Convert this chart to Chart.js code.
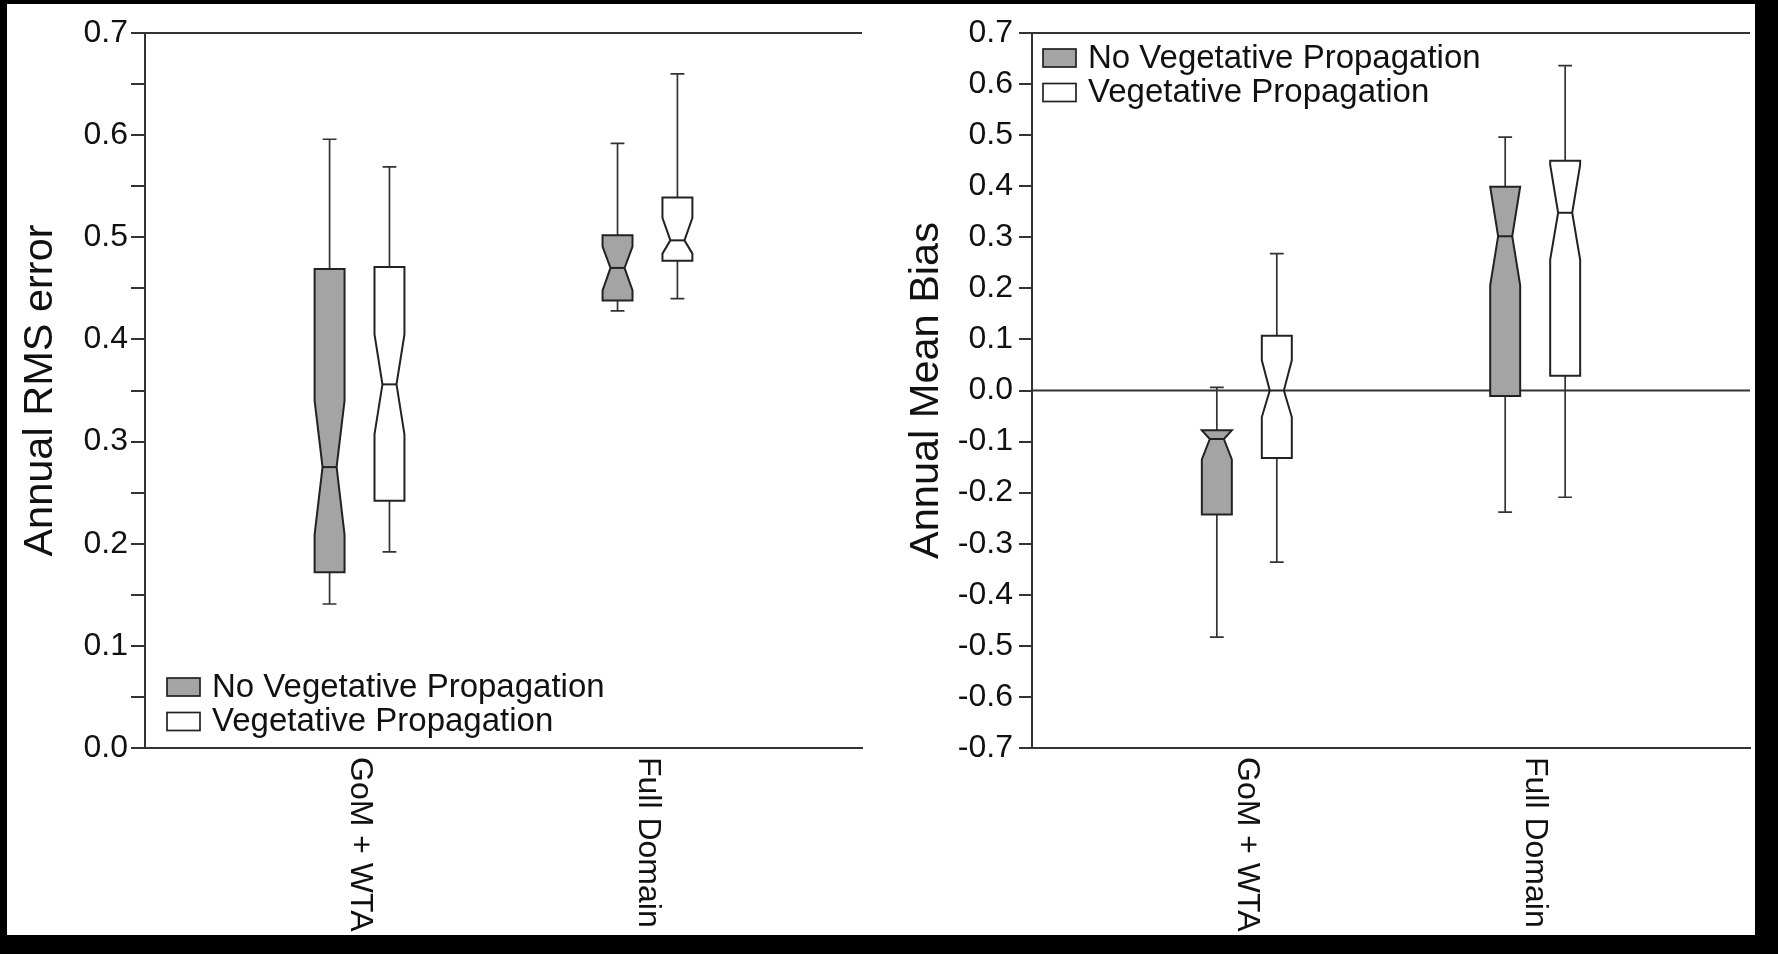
<!DOCTYPE html>
<html lang="en">
<head>
  <meta charset="UTF-8">
  <title>Annual RMS error and Annual Mean Bias</title>
  <script src="https://cdn.jsdelivr.net/npm/chart.js"></script>
  <style>
    body {
      margin: 0;
      width: 1778px;
      height: 954px;
      background: #000;
      position: relative;
      overflow: hidden;
    }
    .paper {
      position: absolute;
      left: 7px;
      top: 4px;
      width: 1748px;
      height: 931px;
      background: #fff;
    }
    .panel {
      position: absolute;
      top: 4px;
      height: 931px;
    }
    #rmsPanel { left: 7px; width: 882px; }
    #biasPanel { left: 889px; width: 866px; }
  </style>
</head>
<body>
  <div class="paper"></div>
  <div class="panel" id="rmsPanel"><canvas id="rmsChart"></canvas></div>
  <div class="panel" id="biasPanel"><canvas id="biasChart"></canvas></div>

  <script>
    // categories on the x axis and the two series
    const regions = ['GoM + WTA', 'Full Domain'];
    const seriesNames = ['No Vegetative Propagation', 'Vegetative Propagation'];

    // each row: [whisker low, Q1, median, Q3, whisker high], one row per region
    const rmsNoVeg = [
      [0.141, 0.172, 0.275, 0.469, 0.596],
      [0.428, 0.438, 0.470, 0.502, 0.592]
    ];
    const rmsVeg = [
      [0.192, 0.242, 0.356, 0.471, 0.569],
      [0.440, 0.477, 0.497, 0.539, 0.660]
    ];
    // notch limits [low, high]
    const rmsNoVegNotch = [[0.209, 0.340], [0.448, 0.491]];
    const rmsVegNotch = [[0.307, 0.405], [0.484, 0.519]];

    const biasNoVeg = [
      [-0.483, -0.243, -0.095, -0.078, 0.006],
      [-0.238, -0.011, 0.302, 0.399, 0.496]
    ];
    const biasVeg = [
      [-0.336, -0.132, 0.000, 0.107, 0.268],
      [-0.209, 0.029, 0.348, 0.450, 0.636]
    ];
    const biasNoVegNotch = [[-0.135, -0.078], [0.206, 0.399]];
    const biasVegNotch = [[-0.052, 0.059], [0.256, 0.442]];

    // y axis ranges and tick steps
    const rmsRange = [0.0, 0.7];
    const rmsStep = 0.05;   // minor ticks every 0.05, labels every 0.1
    const biasRange = [-0.7, 0.7];
    const biasStep = 0.1;

    const FONT = "'Liberation Sans', Arial, Helvetica, sans-serif";
    const INK = '#111';
    const AXIS = '#333';
    const GRAY = '#a4a4a4';
    const SERIES_OFFSET = 0.104;   // x shift of each series from the category centre
    const BOX_W = 0.104;           // box width in x units
    const CAP_W = 0.048;           // whisker cap width in x units

    Chart.defaults.font.family = FONT;
    Chart.defaults.color = INK;

    function fmtTick(v) {
      if (Math.abs(v) < 1e-9) v = 0;
      const r = Math.round(v * 100);
      if (r % 10 !== 0) return '';
      return (r / 100).toFixed(1);
    }

    // notched box plots drawn through the chart's own scales
    const notchedBoxes = {
      id: 'notchedBoxes',
      beforeDatasetsDraw(chart) {
        const { ctx, chartArea, scales: { y } } = chart;
        const extra = chart.options.plugins.notchedBoxes;
        ctx.save();
        ctx.strokeStyle = AXIS;
        ctx.lineWidth = 2;
        ctx.beginPath();
        ctx.moveTo(chartArea.left, chartArea.top);
        ctx.lineTo(chartArea.right, chartArea.top);
        if (extra.zeroLine) {
          const yz = y.getPixelForValue(0);
          ctx.moveTo(chartArea.left, yz);
          ctx.lineTo(chartArea.right, yz);
        }
        ctx.stroke();
        ctx.restore();
      },
      afterDatasetsDraw(chart) {
        const { ctx, chartArea, scales: { x, y } } = chart;
        const extra = chart.options.plugins.notchedBoxes;
        ctx.save();
        chart.data.datasets.forEach(ds => {
          ds.data.forEach((pt, i) => {
            const [lo, q1, med, q3, hi] = ds.stats[i];
            const [nLo, nHi] = ds.notch[i];
            const px = x.getPixelForValue(pt.x);
            const left = x.getPixelForValue(pt.x - BOX_W / 2);
            const right = x.getPixelForValue(pt.x + BOX_W / 2);
            const nw = (right - left) / 2 * 0.47;
            const yLo = y.getPixelForValue(lo);
            const yQ1 = y.getPixelForValue(q1);
            const yMed = y.getPixelForValue(med);
            const yQ3 = y.getPixelForValue(q3);
            const yHi = y.getPixelForValue(hi);
            const yNL = y.getPixelForValue(Math.max(nLo, q1));
            const yNH = y.getPixelForValue(Math.min(nHi, q3));
            const capL = x.getPixelForValue(pt.x - CAP_W / 2);
            const capR = x.getPixelForValue(pt.x + CAP_W / 2);

            // whiskers
            ctx.strokeStyle = AXIS;
            ctx.lineWidth = 1.7;
            ctx.beginPath();
            ctx.moveTo(px, yQ3); ctx.lineTo(px, yHi);
            ctx.moveTo(capL, yHi); ctx.lineTo(capR, yHi);
            ctx.moveTo(px, yQ1); ctx.lineTo(px, yLo);
            ctx.moveTo(capL, yLo); ctx.lineTo(capR, yLo);
            ctx.stroke();

            // notched box
            ctx.beginPath();
            ctx.moveTo(left, yQ3);
            ctx.lineTo(right, yQ3);
            ctx.lineTo(right, yNH);
            ctx.lineTo(px + nw, yMed);
            ctx.lineTo(right, yNL);
            ctx.lineTo(right, yQ1);
            ctx.lineTo(left, yQ1);
            ctx.lineTo(left, yNL);
            ctx.lineTo(px - nw, yMed);
            ctx.lineTo(left, yNH);
            ctx.closePath();
            ctx.fillStyle = ds.backgroundColor;
            ctx.fill();
            ctx.strokeStyle = '#222';
            ctx.lineWidth = 2;
            ctx.stroke();

            // median
            ctx.beginPath();
            ctx.moveTo(px - nw, yMed);
            ctx.lineTo(px + nw, yMed);
            ctx.stroke();
          });
        });

        // rotated category labels under the axis
        ctx.fillStyle = INK;
        ctx.font = '32px ' + FONT;
        ctx.textAlign = 'left';
        ctx.textBaseline = 'middle';
        regions.forEach((name, i) => {
          ctx.save();
          ctx.translate(x.getPixelForValue(i + 1), chartArea.bottom + 9);
          ctx.rotate(Math.PI / 2);
          ctx.fillText(name, 0, 0);
          ctx.restore();
        });

        // legend
        ctx.font = '33px ' + FONT;
        const sx = chartArea.left + extra.legendX;
        const sy = extra.legendAtBottom ? chartArea.bottom + extra.legendY : chartArea.top + extra.legendY;
        chart.data.datasets.forEach((ds, k) => {
          const top = sy + k * 34.5;
          ctx.fillStyle = ds.backgroundColor;
          ctx.fillRect(sx, top, 33, 18);
          ctx.strokeStyle = '#222';
          ctx.lineWidth = 1.7;
          ctx.strokeRect(sx, top, 33, 18);
          ctx.fillStyle = INK;
          ctx.fillText(ds.label, sx + 45, top + 9.5);
        });
        ctx.restore();
      }
    };

    function makeDatasets(noVeg, veg, noVegNotch, vegNotch) {
      const series = [[noVeg, noVegNotch, GRAY, -SERIES_OFFSET], [veg, vegNotch, '#ffffff', SERIES_OFFSET]];
      return series.map(([stats, notch, color, off], k) => ({
        label: seriesNames[k],
        data: stats.map((s, i) => ({ x: i + 1 + off, y: s[2] })),
        stats: stats,
        notch: notch,
        backgroundColor: color,
        pointRadius: 0,
        showLine: false
      }));
    }

    function makeChart(id, opts) {
      return new Chart(document.getElementById(id), {
        type: 'scatter',
        data: { datasets: opts.datasets },
        options: {
          responsive: true,
          maintainAspectRatio: false,
          animation: false,
          layout: { padding: { top: 29, right: opts.padRight, left: 0, bottom: 0 } },
          plugins: {
            legend: { display: false },
            tooltip: { enabled: false },
            notchedBoxes: opts.extra
          },
          scales: {
            x: {
              type: 'linear',
              min: 0.255,
              max: 2.745,
              ticks: { display: false },
              grid: { display: false },
              border: { display: true, color: AXIS, width: 2 },
              afterFit(scale) { scale.height = 187; }
            },
            y: {
              type: 'linear',
              min: opts.range[0],
              max: opts.range[1],
              ticks: {
                stepSize: opts.step,
                autoSkip: false,
                padding: opts.tickPad,
                font: { size: 32 },
                color: INK,
                callback: fmtTick
              },
              grid: {
                drawOnChartArea: false,
                drawTicks: true,
                tickLength: opts.tickLen,
                color: AXIS,
                lineWidth: 2
              },
              border: { display: true, color: AXIS, width: 2 },
              title: {
                display: true,
                text: opts.title,
                font: { size: 41.5 },
                color: INK,
                padding: { top: opts.titlePad, bottom: 0 }
              },
              afterFit(scale) { scale.width = opts.axisWidth; }
            }
          }
        },
        plugins: [notchedBoxes]
      });
    }

    makeChart('rmsChart', {
      datasets: makeDatasets(rmsNoVeg, rmsVeg, rmsNoVegNotch, rmsVegNotch),
      range: rmsRange,
      step: rmsStep,
      title: 'Annual RMS error',
      titlePad: 9,
      axisWidth: 138,
      padRight: 27,
      tickPad: 3,
      tickLen: 14,
      extra: { zeroLine: false, legendAtBottom: true, legendX: 22, legendY: -70 }
    });

    makeChart('biasChart', {
      datasets: makeDatasets(biasNoVeg, biasVeg, biasNoVegNotch, biasVegNotch),
      range: biasRange,
      step: biasStep,
      title: 'Annual Mean Bias',
      titlePad: 13,
      axisWidth: 143,
      padRight: 5,
      tickPad: 6,
      tickLen: 13,
      extra: { zeroLine: true, legendAtBottom: false, legendX: 11, legendY: 16 }
    });
  </script>
</body>
</html>
